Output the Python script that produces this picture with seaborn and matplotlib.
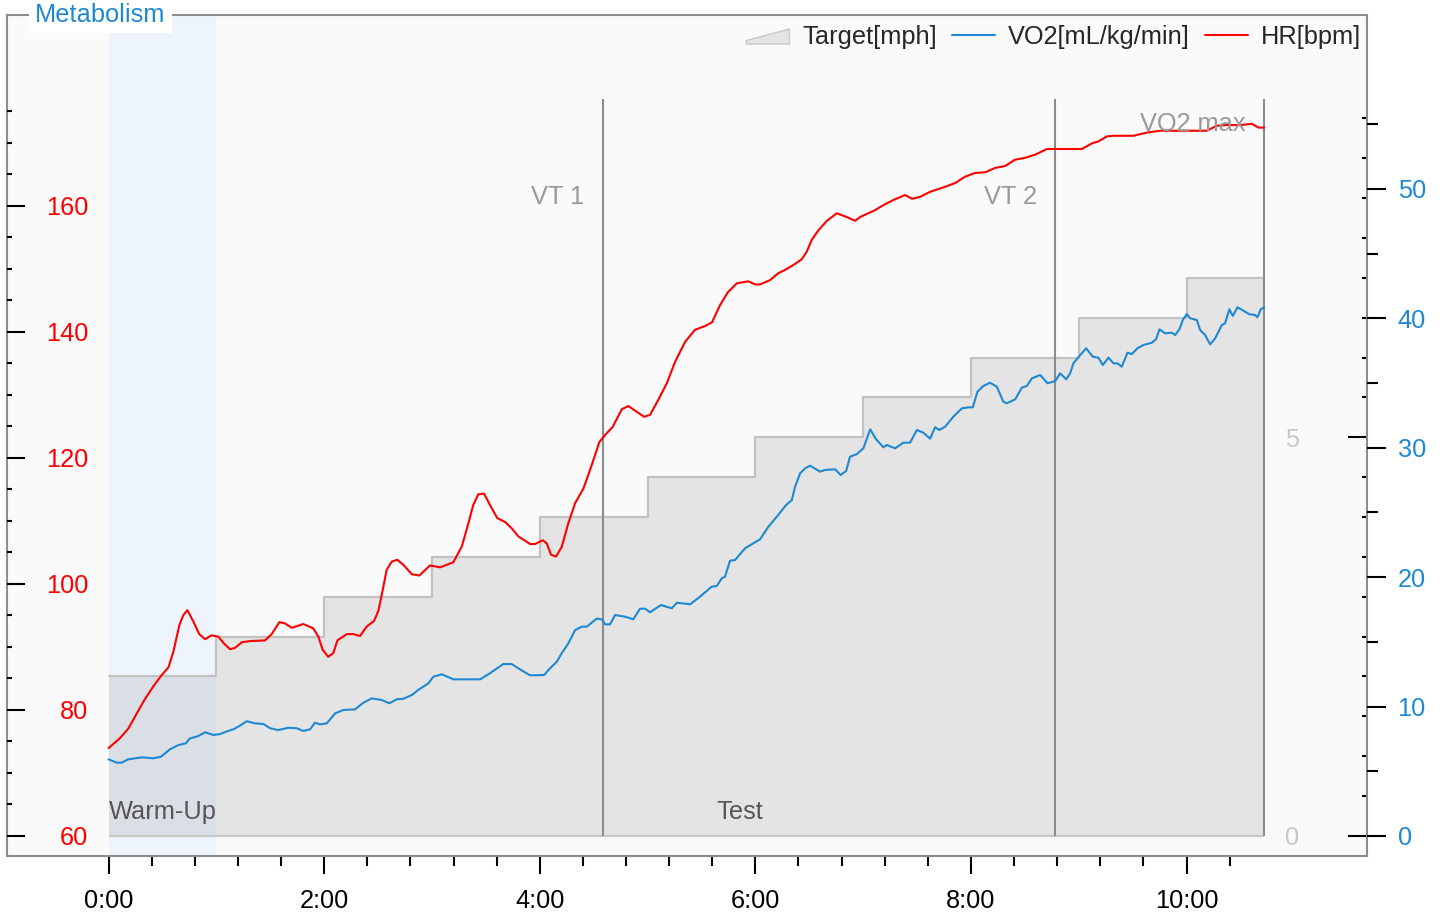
"""
plot.py
Metabolic cart test summary: HR, VO2 and treadmill target speed
"""

import numpy as np
import matplotlib
matplotlib.use('Agg')
import matplotlib.pyplot as plt
import matplotlib.patches as mpatches
from matplotlib.lines import Line2D
from matplotlib.legend_handler import HandlerPatch
from matplotlib.ticker import FixedLocator, FuncFormatter
import seaborn as sns

# ─────────────────────────────────────────────────────────────
# DATA
# ─────────────────────────────────────────────────────────────

# phase / marker times (seconds)
WARMUP_END = 60
TEST_END   = 643
VT1_TIME   = 275
VT2_TIME   = 527

# treadmill target, one step per minute
step_start_s = [0, 60, 120, 180, 240, 300, 360, 420, 480, 540, 600]
target_mph   = [2.0, 2.5, 3.0, 3.5, 4.0, 4.5, 5.0, 5.5, 6.0, 6.5, 7.0]

hr_time_s = [
    0, 6.4, 11.0, 15.7, 20.3, 24.9, 29.6, 33.3, 36.1, 39.4, 41.6, 43.9, 47.2, 50.5,
    53.7, 57.4, 61.1, 64.3, 67.6, 70.4, 74.1, 78.8, 87.1, 90.8, 95.1, 98.2, 102.0,
    108.4, 114.0, 116.8, 119.2, 122.3, 125.1, 127.4, 132.6, 136.3, 140.0, 143.7,
    147.8, 150.2, 152.6, 154.8, 157.6, 160.7, 164.1, 168.8, 173.0, 178.9, 184.5,
    188.2, 191.9, 196.6, 200.3, 203.0, 205.8, 209.0, 212.3, 216.4, 220.7, 224.4,
    228.1, 234.6, 237.4, 241.7, 243.9, 246.3, 249.1, 252.3, 255.9, 259.7, 264.3,
    268.9, 273.2, 276.4, 280.6, 285.7, 289.3, 294.0, 298.1, 301.4, 306.0, 310.7,
    315.3, 320.9, 326.4, 332.0, 335.9, 340.3, 344.8, 349.8, 356.1, 359.9, 362.6,
    368.2, 372.8, 376.5, 381.2, 385.8, 388.6, 391.4, 395.1, 399.8, 405.3, 410.9,
    415.5, 418.3, 422.9, 426.6, 431.3, 436.8, 443.3, 447.2, 451.7, 457.2, 465.6,
    471.2, 476.7, 482.3, 487.9, 493.4, 499.0, 504.5, 510.1, 515.7, 522.2, 541.7,
    547.3, 550.9, 555.6, 559.3, 570.4, 577.9, 585.3, 611.3, 616.8, 622.4, 629.8,
    636.3, 640.0, 643.2,
]
hr_bpm = [
    73.9, 75.5, 77.0, 79.4, 81.7, 83.7, 85.5, 86.7, 89.2, 93.4, 95.0, 95.8, 94.0, 92.0,
    91.2, 91.8, 91.6, 90.5, 89.6, 89.8, 90.7, 90.9, 91.0, 92.0, 93.9, 93.7, 93.0,
    93.6, 92.9, 91.6, 89.5, 88.4, 89.0, 91.0, 92.0, 92.0, 91.7, 93.2,
    94.1, 95.7, 99.0, 102.2, 103.5, 103.8, 103.0, 101.5, 101.3, 102.9, 102.6,
    103.0, 103.4, 105.9, 109.6, 112.5, 114.2, 114.3, 112.5, 110.4, 109.8, 108.8,
    107.5, 106.3, 106.3, 106.9, 106.4, 104.6, 104.3, 105.9, 109.6, 112.8, 115.1,
    118.8, 122.5, 123.6, 124.9, 127.7, 128.2, 127.3, 126.5, 126.8, 129.2, 131.8,
    135.2, 138.4, 140.3, 140.9, 141.5, 144.2, 146.3, 147.7, 148.0, 147.5, 147.5,
    148.2, 149.3, 149.8, 150.6, 151.5, 152.7, 154.6, 156.1, 157.6, 158.8, 158.2,
    157.6, 158.2, 158.8, 159.3, 160.1, 160.9, 161.7, 161.1, 161.4, 162.2, 163.0,
    163.6, 164.6, 165.2, 165.3, 166.0, 166.3, 167.3, 167.6, 168.1, 169.0, 169.0,
    169.9, 170.2, 171.0, 171.1, 171.1, 171.6, 171.9, 171.9, 172.7, 172.8, 172.8,
    173.0, 172.4, 172.4,
]

vo2_time_s = [
    0, 4.6, 7.3, 11.0, 18.5, 24.9, 29.2, 34.2, 38.9, 43.1, 45.0, 50.0, 53.7, 58.3,
    62.1, 65.4, 69.5, 73.2, 76.9, 81.5, 86.2, 89.9, 94.5, 100.1, 104.8, 108.4,
    112.2, 114.9, 117.7, 121.5, 126.1, 130.7, 137.2, 141.8, 146.5, 152.1, 156.3,
    160.4, 164.1, 168.8, 172.4, 178.0, 180.8, 185.5, 191.9, 201.2, 206.8, 212.3,
    219.7, 224.4, 229.0, 234.6, 242.4, 245.7, 249.5, 252.2, 255.9, 259.7, 263.4,
    266.2, 271.7, 274.5, 276.4, 279.1, 281.9, 287.5, 292.1, 295.8, 298.6, 301.4,
    307.4, 313.5, 316.3, 323.7, 329.2, 335.7, 338.5, 341.3, 343.1, 345.9, 348.7,
    354.3, 358.9, 362.6, 367.1, 372.7, 377.1, 380.3, 382.1, 384.9, 387.7, 390.5,
    396.0, 398.8, 404.4, 407.5, 410.5, 412.7, 416.5, 420.1, 423.9, 427.2, 431.3,
    433.2, 437.8, 442.4, 446.1, 449.9, 453.5, 457.3, 460.0, 462.4, 465.6, 470.2,
    474.9, 478.6, 481.0, 483.6, 486.9, 490.6, 494.4, 498.0, 499.9, 504.6, 508.3,
    511.1, 513.9, 518.5, 522.6, 526.9, 529.6, 533.0, 535.2, 537.0, 540.8, 544.1,
    547.8, 550.9, 553.4, 556.5, 559.3, 561.5, 563.9, 567.1, 569.5, 572.6, 576.0,
    580.6, 583.0, 584.9, 588.0, 591.8, 593.6, 596.0, 597.9, 600.1, 602.0, 605.7,
    607.5, 610.3, 613.1, 615.9, 619.6, 621.4, 623.8, 625.7, 628.3, 631.6, 635.0,
    638.1, 639.4, 641.3, 643.2,
]
vo2_ml_kg_min = [
    5.92, 5.66, 5.66, 5.92, 6.07, 6.00, 6.12, 6.69, 7.02, 7.16, 7.51, 7.72, 8.01, 7.80,
    7.87, 8.05, 8.24, 8.52, 8.86, 8.70, 8.65, 8.32, 8.18, 8.36, 8.32, 8.11,
    8.24, 8.75, 8.62, 8.70, 9.47, 9.73, 9.78, 10.29, 10.63, 10.50, 10.25,
    10.56, 10.60, 10.89, 11.28, 11.79, 12.30, 12.49, 12.10, 12.10, 12.10, 12.57,
    13.28, 13.28, 12.87, 12.41, 12.43, 12.95, 13.46, 14.11, 14.88, 15.91, 16.17,
    16.17, 16.79, 16.74, 16.35, 16.35, 17.07, 16.94, 16.74, 17.56, 17.56, 17.28,
    17.84, 17.59, 18.02, 17.90, 18.49, 19.26, 19.31, 19.91, 20.03, 21.27, 21.32,
    22.23, 22.61, 22.92, 23.87, 24.80, 25.57, 25.96, 26.99, 28.02, 28.41, 28.61,
    28.15, 28.28, 28.33, 27.89, 28.20, 29.30, 29.51, 29.95, 31.42, 30.65, 30.03,
    30.21, 29.95, 30.39, 30.39, 31.37, 31.16, 30.70, 31.58, 31.37, 31.62, 32.40,
    33.04, 33.12, 33.12, 34.33, 34.77, 35.02, 34.71, 33.56, 33.43, 33.74, 34.64,
    34.77, 35.36, 35.62, 34.98, 35.15, 35.75, 35.29, 35.75, 36.52, 37.16, 37.68,
    37.03, 36.96, 36.39, 36.96, 36.52, 36.52, 36.26, 37.34, 37.24, 37.68, 37.94,
    38.11, 38.38, 39.15, 38.84, 38.89, 38.71, 39.15, 39.87, 40.33, 40.00, 39.87,
    39.10, 38.71, 37.99, 38.45, 39.48, 39.61, 40.70, 40.18, 40.85, 40.59, 40.31,
    40.26, 40.08, 40.70, 40.85,
]

# ─────────────────────────────────────────────────────────────
# STYLE
# ─────────────────────────────────────────────────────────────

RED        = '#ff0000'
BLUE       = '#1f88d2'
FRAME_GREY = '#8c8c8c'
MARK_GREY  = '#8c8c8c'
LABEL_GREY = '#999999'
FONT_SIZE  = 18.3

sns.set_style('white')
plt.rcParams['font.family'] = ['Liberation Sans', 'DejaVu Sans']


def wedge_patch(legend, orig_handle, xdescent, ydescent, width, height, fontsize):
    # area-series symbol: low on the left, high on the right
    return mpatches.Polygon(
        [[-xdescent, -ydescent],
         [width - xdescent, -ydescent],
         [width - xdescent, 0.85 * height - ydescent],
         [-xdescent, 0.2 * height - ydescent]],
        closed=True,
    )


def mmss(v, pos):
    return f"{int(v // 60)}:{int(v % 60):02d}"


# ─────────────────────────────────────────────────────────────
# FIGURE
# ─────────────────────────────────────────────────────────────

fig = plt.figure(figsize=(14.44, 9.17), dpi=100)
fig.patch.set_facecolor('white')

ax_t  = fig.add_axes([7 / 1444, 61 / 917, 1360 / 1444, 841 / 917])
ax_hr = ax_t.twinx()
ax_vo = ax_t.twinx()
ax_t.set_facecolor('#fafafa')

# warm-up band + target steps (back layer)
ax_t.axvspan(0, WARMUP_END, color='#eef4fc', lw=0, zorder=0)
t_edges = step_start_s + [TEST_END]
v_edges = target_mph + [target_mph[-1]]
ax_t.fill_between(t_edges, v_edges, 0, step='post', color='#808080',
                  alpha=0.18, lw=0, zorder=1)
ax_t.step(t_edges, v_edges, where='post', color='#c2c2c2', lw=1.6, zorder=2)
ax_t.hlines(0, 0, TEST_END, color='#c8c8c8', lw=1.6, zorder=2)

# threshold markers
ax_hr.vlines([VT1_TIME, VT2_TIME, TEST_END], 60, 177, color=MARK_GREY, lw=1.5, zorder=1)
for x, y, txt in [(VT1_TIME, 161.4, 'VT 1'), (VT2_TIME, 161.4, 'VT 2'), (TEST_END, 173.0, 'VO2 max')]:
    ax_hr.annotate(txt, xy=(x, y), xytext=(-13, 0), textcoords='offset points',
                   ha='right', va='center', fontsize=FONT_SIZE, color=LABEL_GREY)

ax_hr.text(WARMUP_END / 2, 63.8, 'Warm-Up', ha='center', va='center',
           fontsize=FONT_SIZE, color='#555555')
ax_hr.text((WARMUP_END + TEST_END) / 2, 63.8, 'Test', ha='center', va='center',
           fontsize=FONT_SIZE, color='#555555')

# series
sns.lineplot(x=hr_time_s, y=hr_bpm, ax=ax_hr, color=RED, linewidth=1.5, legend=False)
sns.lineplot(x=vo2_time_s, y=vo2_ml_kg_min, ax=ax_vo, color=BLUE, linewidth=1.5, legend=False)

# ─────────────────────────────────────────────────────────────
# AXES
# ─────────────────────────────────────────────────────────────

ax_t.set_xlim(-56.5, 700.4)
ax_t.set_ylim(-0.252, 10.296)
ax_hr.set_ylim(56.78, 190.27)
ax_vo.set_ylim(-1.553, 63.44)

for a in (ax_t, ax_hr, ax_vo):
    a.set_xlabel('')
    a.set_ylabel('')

# x axis (time)
ax_t.xaxis.set_major_locator(FixedLocator(list(range(0, 601, 120))))
ax_t.xaxis.set_minor_locator(FixedLocator(list(np.arange(0, TEST_END + 1, 24))))
ax_t.xaxis.set_major_formatter(FuncFormatter(mmss))
ax_t.tick_params(axis='x', which='both', bottom=True, top=False)
ax_t.tick_params(axis='x', which='major', direction='out', length=13, width=1.5,
                 color='black', pad=10.5, labelsize=FONT_SIZE, labelcolor='black')
ax_t.tick_params(axis='x', which='minor', direction='out', length=7, width=1.5, color='black')

# target speed axis: inside, right
ax_t.yaxis.tick_right()
ax_t.yaxis.set_major_locator(FixedLocator([0, 5]))
ax_t.yaxis.set_minor_locator(FixedLocator(list(np.arange(0, 9.01, 0.5))))
ax_t.tick_params(axis='y', which='both', right=True, left=False)
ax_t.tick_params(axis='y', which='major', direction='in', length=13.5, width=1.5,
                 color='black', pad=-59, labelsize=FONT_SIZE, labelcolor='#c8c8c8')
ax_t.tick_params(axis='y', which='minor', direction='in', length=3.5, width=1.5, color='black')

# HR axis: inside, left
ax_hr.yaxis.tick_left()
ax_hr.yaxis.set_major_locator(FixedLocator(list(range(60, 161, 20))))
ax_hr.yaxis.set_minor_locator(FixedLocator(list(range(60, 176, 5))))
ax_hr.tick_params(axis='y', which='both', left=True, right=False)
ax_hr.tick_params(axis='y', which='major', direction='in', length=13, width=1.5,
                  color='black', pad=-58.5, labelsize=FONT_SIZE, labelcolor=RED)
ax_hr.tick_params(axis='y', which='minor', direction='in', length=3.6, width=1.5, color='black')

# VO2 axis: outside, right
ax_vo.yaxis.set_major_locator(FixedLocator(list(range(0, 51, 10))))
ax_vo.yaxis.set_minor_locator(FixedLocator(list(range(0, 56, 5))))
ax_vo.tick_params(axis='y', which='both', right=True, left=False)
ax_vo.tick_params(axis='y', which='major', direction='out', length=14, width=1.5,
                  color='black', pad=8, labelsize=FONT_SIZE, labelcolor=BLUE)
ax_vo.tick_params(axis='y', which='minor', direction='out', length=8, width=1.5, color='black')

for s in ax_t.spines.values():
    s.set_color(FRAME_GREY)
    s.set_linewidth(1.5)
for a in (ax_hr, ax_vo):
    for s in a.spines.values():
        s.set_visible(False)

# legend + panel title
handles = [
    mpatches.Patch(facecolor='#e4e4e4', edgecolor='#c8c8c8', label='Target[mph]'),
    Line2D([], [], color=BLUE, lw=1.5, label='VO2[mL/kg/min]'),
    Line2D([], [], color=RED, lw=1.5, label='HR[bpm]'),
]
ax_vo.legend(handles=handles, handler_map={mpatches.Patch: HandlerPatch(patch_func=wedge_patch)},
             loc='upper right', bbox_to_anchor=(0.9956, 0.988), ncol=3, frameon=False,
             fontsize=FONT_SIZE, handlelength=1.7, handletextpad=0.5, columnspacing=0.6,
             borderpad=0, borderaxespad=0)

ax_vo.text(0.0206, 1.0, 'Metabolism', transform=ax_vo.transAxes, ha='left', va='center',
           fontsize=FONT_SIZE, color=BLUE, clip_on=False, zorder=10,
           bbox=dict(boxstyle='square,pad=0.25', fc='white', ec='none'))

fig.savefig('out.png', dpi=100, facecolor='white')
plt.close(fig)
